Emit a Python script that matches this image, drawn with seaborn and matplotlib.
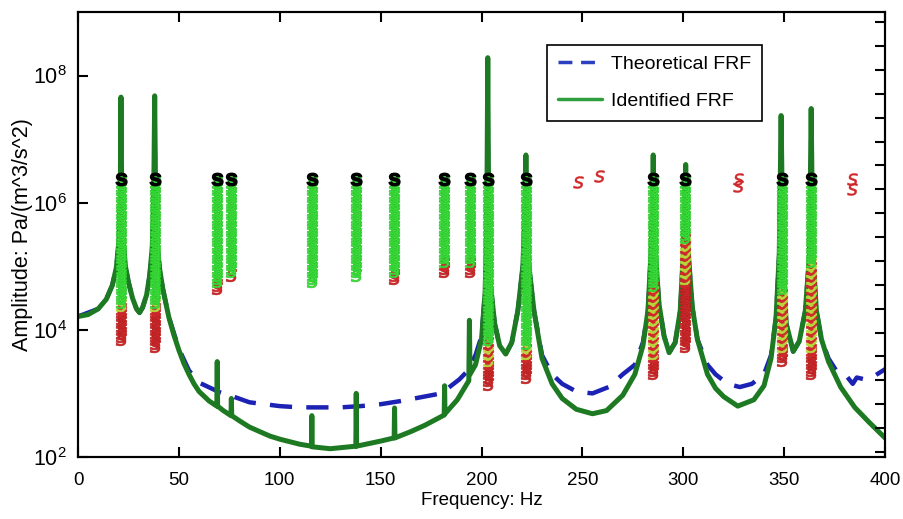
import numpy as np
import matplotlib
matplotlib.use("Agg")
import matplotlib.pyplot as plt
from matplotlib.lines import Line2D
import seaborn as sns

# identified FRF: frequency [Hz], log10 amplitude
ident_freq = [0, 5, 10, 14, 17, 19, 20.3, 20.9, 21.3, 21.7, 22.4, 23.5, 25, 27, 29, 30.5, 32, 34,
              35.5, 36.8, 37.5, 38.0, 38.5, 39.3, 40.5, 42, 45, 47.5, 50, 52.5, 55, 57.5, 60,
              65, 68.8, 69.0, 69.2, 72, 75.8, 76.0, 76.2, 80, 85, 90, 95, 100, 110, 115.7,
              115.9, 116.1, 125, 137.7, 137.9, 138.1, 150, 156.7, 156.9, 157.1, 165, 172,
              181.5, 181.7, 181.9, 188, 193.7, 194, 194.3, 197, 200, 201.8, 202.6, 203.1,
              203.6, 204.5, 206.5, 209, 212, 215, 218, 220.5, 221.5, 222.0, 222.5, 223.5, 226,
              230, 235, 240, 247, 255, 262, 270, 276, 280, 282.5, 284, 284.8, 285.1, 285.4,
              286.2, 288, 290.5, 293, 296, 298.5, 300, 300.8, 301.2, 301.6, 302.5, 304.5, 307,
              312, 316, 320, 327, 335, 340, 343.5, 346, 347.6, 348.5, 349.4, 351, 354.5, 357.5,
              360.5, 362.6, 363.4, 364.2, 366, 368.5, 372, 378, 385, 392, 400]
ident_log = [4.21, 4.24, 4.33, 4.48, 4.7, 4.98, 5.4, 6.0, 7.66, 6.0, 5.4, 5.0, 4.75, 4.5, 4.33,
             4.27, 4.35, 4.55, 4.85, 5.3, 6.0, 7.68, 6.0, 5.3, 4.95, 4.65, 4.2, 3.92, 3.68, 3.47,
             3.3, 3.15, 3.03, 2.88, 2.8, 3.5, 2.8, 2.73, 2.65, 2.92, 2.65, 2.57, 2.47, 2.4,
             2.33, 2.28, 2.2, 2.17, 2.65, 2.16, 2.13, 2.17, 3.0, 2.17, 2.25, 2.3, 2.77, 2.3,
             2.4, 2.5, 2.66, 3.12, 2.68, 2.9, 3.2, 4.15, 3.3, 3.45, 3.85, 4.6, 5.6, 8.28, 5.6,
             4.7, 4.1, 3.75, 3.62, 3.8, 4.3, 5.0, 5.8, 6.75, 5.8, 5.0, 4.3, 3.55, 3.15, 2.92,
             2.75, 2.68, 2.73, 2.97, 3.3, 3.75, 4.3, 5.2, 6.0, 6.75, 6.0, 5.2, 4.4, 3.9, 3.64,
             3.8, 4.3, 5.2, 6.0, 6.6, 6.0, 5.2, 4.35, 3.85, 3.3, 3.08, 2.95, 2.8, 2.9, 3.12,
             3.55, 4.2, 5.2, 7.37, 5.2, 4.1, 3.66, 3.82, 4.3, 5.2, 7.48, 5.2, 4.3, 3.85, 3.5,
             3.1, 2.78, 2.55, 2.3]

# theoretical FRF
theo_freq = [0, 10, 14, 17, 19, 20.3, 20.9, 21.3, 21.7, 22.4, 23.5, 25, 27, 29, 30.5, 32, 34,
             35.5, 36.8, 37.5, 38.0, 38.5, 39.3, 40.5, 42, 45, 50, 55, 60, 70, 77, 85, 100, 110,
             120, 130, 140, 150, 160, 170, 180, 189, 193, 197, 200, 201.8, 202.6, 203.1, 203.6,
             204.5, 206.5, 209, 212, 215, 218, 220.5, 221.5, 222.0, 222.5, 223.5, 226, 230, 235,
             240, 247, 255, 263, 270, 276, 280, 282.5, 284, 284.8, 285.1, 285.4, 286.2, 288,
             290.5, 293, 296, 298.5, 300, 300.8, 301.2, 301.6, 302.5, 304.5, 307, 312, 316, 322,
             328, 334, 340, 343.5, 346, 347.6, 348.5, 349.4, 351, 354.5, 357.5, 360.5, 362.6,
             363.4, 364.2, 366, 368.5, 372, 376, 381, 384, 386, 390, 395, 400]
theo_log = [4.21, 4.33, 4.48, 4.7, 4.98, 5.4, 6.0, 7.0, 6.0, 5.4, 5.0, 4.75, 4.5, 4.33, 4.27,
            4.35, 4.55, 4.85, 5.3, 6.0, 7.0, 6.0, 5.3, 4.95, 4.65, 4.2, 3.7, 3.36, 3.17, 3.02,
            2.95, 2.86, 2.8, 2.78, 2.78, 2.78, 2.8, 2.83, 2.88, 2.94, 3.0, 3.22, 3.35, 3.6, 3.9,
            4.6, 5.6, 7.0, 5.6, 4.7, 4.1, 3.75, 3.62, 3.8, 4.3, 5.0, 5.8, 6.5, 5.8, 5.0, 4.3,
            3.6, 3.3, 3.15, 3.03, 3.0, 3.1, 3.3, 3.45, 3.8, 4.3, 5.2, 6.0, 6.5, 6.0, 5.2, 4.4,
            3.9, 3.64, 3.8, 4.3, 5.2, 6.0, 6.4, 6.0, 5.2, 4.35, 3.85, 3.45, 3.3, 3.15, 3.1, 3.15,
            3.3, 3.6, 4.2, 5.2, 7.0, 5.2, 4.1, 3.66, 3.82, 4.3, 5.2, 7.0, 5.2, 4.3, 3.85, 3.55,
            3.35, 3.27, 3.15, 3.25, 3.22, 3.28, 3.38]

# stabilization diagram: pole columns (frequency, lowest stable / mixed / unstable model order)
stab_freq = [21.3, 38.2, 68.9, 75.8, 115.8, 137.8, 156.8, 181.6, 194.3, 203.1, 221.9,
             285.0, 301.0, 348.8, 363.3]
green_low = [44, 44, 50, 53, 50, 52, 53, 56, 56, 33, 32, 49, 63, 48, 56]
mix_low = [42, 42, 49, 53, 50, 52, 52, 55, 55, 26, 28, 28, 50, 30, 30]
red_low = [33, 31, 48, 52, 50, 52, 51, 53, 53, 20, 22, 23, 31, 27, 23]
top_order = 80
# isolated unstable poles
extra_freq = [247.8, 258.2, 327.0, 327.0, 383.5, 383.5]
extra_order = [79, 81, 80, 78, 80, 77]

sns.set_style("ticks")
plt.rcParams["font.family"] = ["Liberation Sans", "DejaVu Sans"]
plt.rcParams["mathtext.fontset"] = "custom"
plt.rcParams["mathtext.rm"] = "Liberation Sans"
plt.rcParams["mathtext.bf"] = "Liberation Sans:bold"

fig = plt.figure(figsize=(9.04, 5.19), dpi=100)
ax = fig.add_axes([0.0863, 0.1195, 0.8927, 0.8575])

blue = "#1c22b4"
green = "#1d7a22"

theo_amp = [10 ** v for v in theo_log]
ident_amp = [10 ** v for v in ident_log]
sns.lineplot(x=theo_freq, y=theo_amp, ax=ax, color=blue, linewidth=3.2, sort=False, zorder=2)
sns.lineplot(x=ident_freq, y=ident_amp, ax=ax, color=green, linewidth=3.6, sort=False, zorder=3)
ax.lines[0].set_dashes([5, 3.2])

ax.set_yscale("log")
ax.set_xlim(0, 400)
ax.set_ylim(1e2, 1e9)
ax.set_xticks(range(0, 401, 50))
ax.set_yticks([1e2, 1e4, 1e6, 1e8])
ax.set_yticklabels([r"$10^{2}$", r"$10^{4}$", r"$10^{6}$", r"$10^{8}$"])
ax.minorticks_off()
ax.tick_params(axis="both", direction="in", length=7, width=1.5, pad=8,
               color="black", labelcolor="black")
ax.tick_params(axis="x", top=True, labelsize=13.5, pad=11)
ax.tick_params(axis="y", labelsize=15.5)
ax.set_xlabel("Frequency: Hz", fontsize=13.5, labelpad=2, color="black")
ax.set_ylabel("Amplitude: Pa/(m^3/s^2)", fontsize=15.5, labelpad=0, color="black")
for sp in ax.spines.values():
    sp.set_linewidth(1.5)
    sp.set_color("black")

# second axis for model order
ax2 = ax.twinx()
ax2.set_ylim(-1.5, 129)
ax2.set_yticks(range(0, 127, 7))
ax2.set_yticklabels([])
ax2.tick_params(axis="y", direction="in", length=7, width=1.5, color="black")
for sp in ax2.spines.values():
    sp.set_linewidth(1.5)
    sp.set_color("black")

col_green = "#3be23b"
col_red = "#d0282a"
col_mix = "#b8d83c"
msize = 85
for f, gl, ml, rl in zip(stab_freq, green_low, mix_low, red_low):
    g_orders = list(range(gl, top_order))
    m_orders = list(range(ml, gl))
    r_orders = list(range(rl, ml))
    ax2.scatter([f] * len(r_orders), r_orders, marker="$s$", s=msize, color=col_red,
                linewidths=0.4, edgecolors="#b01e1e", zorder=4)
    for i, o in enumerate(m_orders):
        c = col_red if i % 2 == 0 else col_mix
        ax2.scatter([f], [o], marker="$s$", s=msize, color=c, linewidths=0.4, zorder=4)
    ax2.scatter([f] * len(g_orders), g_orders, marker="$s$", s=msize, color=col_green,
                linewidths=0.4, edgecolors="#2cc22c", zorder=4)
    ax2.scatter([f], [top_order], marker=r"$\mathbf{s}$", s=80, color="black", zorder=5)

ax2.scatter(extra_freq, extra_order, marker="$s$", s=75, color=col_red, linewidths=0.3,
            zorder=4)

handles = [Line2D([], [], color="#2b3fc0", linewidth=2.5, dashes=[4, 2.5]),
           Line2D([], [], color="#2f9e3f", linewidth=2.5)]
leg = ax2.legend(handles, ["Theoretical FRF", "Identified FRF"], loc="upper left",
                 bbox_to_anchor=(0.581, 0.926), borderaxespad=0, fancybox=False,
                 framealpha=1, edgecolor="black", fontsize=14, labelspacing=1.0,
                 handlelength=2.3, borderpad=0.55, handletextpad=0.45)
leg.get_frame().set_linewidth(1.2)
for t in leg.get_texts():
    t.set_color("black")

fig.savefig("out.png", dpi=100)
